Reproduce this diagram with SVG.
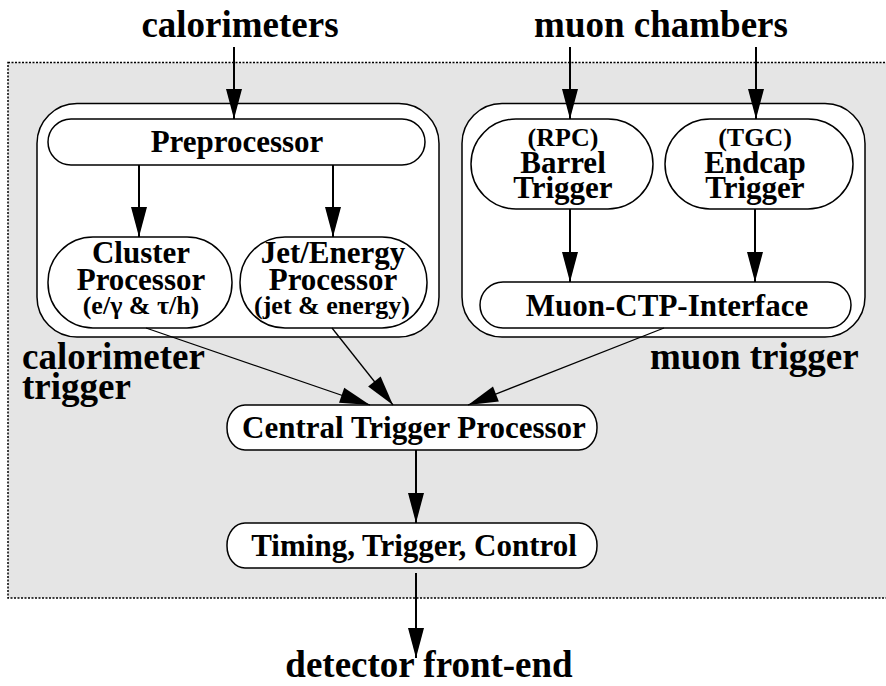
<svg xmlns="http://www.w3.org/2000/svg" width="886" height="686" viewBox="0 0 886 686">
  <style>
    text { font-family: "Liberation Serif", "Times New Roman", serif; font-weight: bold; fill: #000; text-anchor: middle; }
    .big { font-size: 37px; }
    .mid { font-size: 31px; }
    .small { font-size: 26px; }
    .left { text-anchor: start; }
    .box { fill: #fff; stroke: #000; stroke-width: 1.5; }
    .arr { fill: none; stroke: #000; stroke-width: 2; marker-end: url(#head); }
    .diag { fill: none; stroke: #000; stroke-width: 1.3; marker-end: url(#head); }
  </style>
  <defs>
    <marker id="head" markerUnits="userSpaceOnUse" markerWidth="30" markerHeight="16" refX="30" refY="8" orient="auto" overflow="visible">
      <path d="M0,0 L30,8 L0,16 Z" fill="#000"/>
    </marker>
  </defs>

  <rect width="886" height="686" fill="#fff"/>

  <!-- trigger system area -->
  <rect id="system-area" x="8" y="62.5" width="900" height="535.5" fill="#e5e5e5" stroke="#000" stroke-width="1.5" stroke-dasharray="2,1.5"/>

  <!-- external sources and sink -->
  <text class="big" x="240" y="37">calorimeters</text>
  <text class="big" x="661" y="37">muon chambers</text>
  <text class="big" x="429" y="677">detector front-end</text>

  <!-- group labels -->
  <text class="big left" x="22" y="369">calorimeter</text>
  <text class="big left" x="22" y="399">trigger</text>
  <text class="big left" x="650" y="369">muon trigger</text>

  <!-- calorimeter trigger -->
  <g id="calorimeter-trigger">
    <rect class="box" x="37" y="103.5" width="402" height="233.5" rx="40" ry="40"/>
  </g>
  <g id="preprocessor">
    <rect class="box" x="48" y="119" width="377" height="46" rx="23" ry="23"/>
    <text class="mid" x="237" y="152">Preprocessor</text>
  </g>
  <g id="cluster-processor">
    <rect class="box" x="48" y="237" width="184" height="91" rx="45" ry="45"/>
    <text class="mid" x="141" y="263">Cluster</text>
    <text class="mid" x="141" y="290">Processor</text>
    <text class="small" x="141" y="314">(e/γ &amp; τ/h)</text>
  </g>
  <g id="jet-energy-processor">
    <rect class="box" x="240" y="237" width="187" height="91" rx="45" ry="45"/>
    <text class="mid" x="333" y="263">Jet/Energy</text>
    <text class="mid" x="333" y="290">Processor</text>
    <text class="small" x="332" y="314">(jet &amp; energy)</text>
  </g>

  <!-- muon trigger -->
  <g id="muon-trigger">
    <rect class="box" x="462" y="103.5" width="403" height="233.5" rx="40" ry="40"/>
  </g>
  <g id="barrel-trigger">
    <rect class="box" x="471" y="119" width="182" height="90" rx="45" ry="45"/>
    <text class="small" x="563" y="146">(RPC)</text>
    <text class="mid" x="563" y="173">Barrel</text>
    <text class="mid" x="563" y="198">Trigger</text>
  </g>
  <g id="endcap-trigger">
    <rect class="box" x="665" y="119" width="188" height="90" rx="45" ry="45"/>
    <text class="small" x="755" y="146">(TGC)</text>
    <text class="mid" x="755" y="173">Endcap</text>
    <text class="mid" x="755" y="198">Trigger</text>
  </g>
  <g id="muon-ctp-interface">
    <rect class="box" x="480" y="282" width="371" height="46" rx="23" ry="23"/>
    <text class="mid" x="667" y="316">Muon-CTP-Interface</text>
  </g>

  <!-- central trigger -->
  <g id="central-trigger-processor">
    <rect class="box" x="227" y="405" width="370" height="45" rx="18" ry="22"/>
    <text class="mid" x="414" y="438">Central Trigger Processor</text>
  </g>
  <g id="timing-trigger-control">
    <rect class="box" x="227" y="523" width="370" height="45" rx="18" ry="22"/>
    <text class="mid" x="414" y="556">Timing, Trigger, Control</text>
  </g>

  <!-- connectors -->
  <g id="connectors">
    <path class="arr" d="M234,47 V119"/>
    <path class="arr" d="M570,47 V119"/>
    <path class="arr" d="M756,47 V119"/>
    <path class="arr" d="M139,165 V237"/>
    <path class="arr" d="M333,165 V237"/>
    <path class="arr" d="M570,209 V282"/>
    <path class="arr" d="M755,209 V282"/>
    <path class="diag" d="M146,328 L370,405"/>
    <path class="diag" d="M332,328 L393,405"/>
    <path class="diag" d="M664,328 L468,405"/>
    <path class="arr" d="M416,450 V523"/>
    <path class="arr" d="M416,573 V658"/>
  </g>
</svg>
